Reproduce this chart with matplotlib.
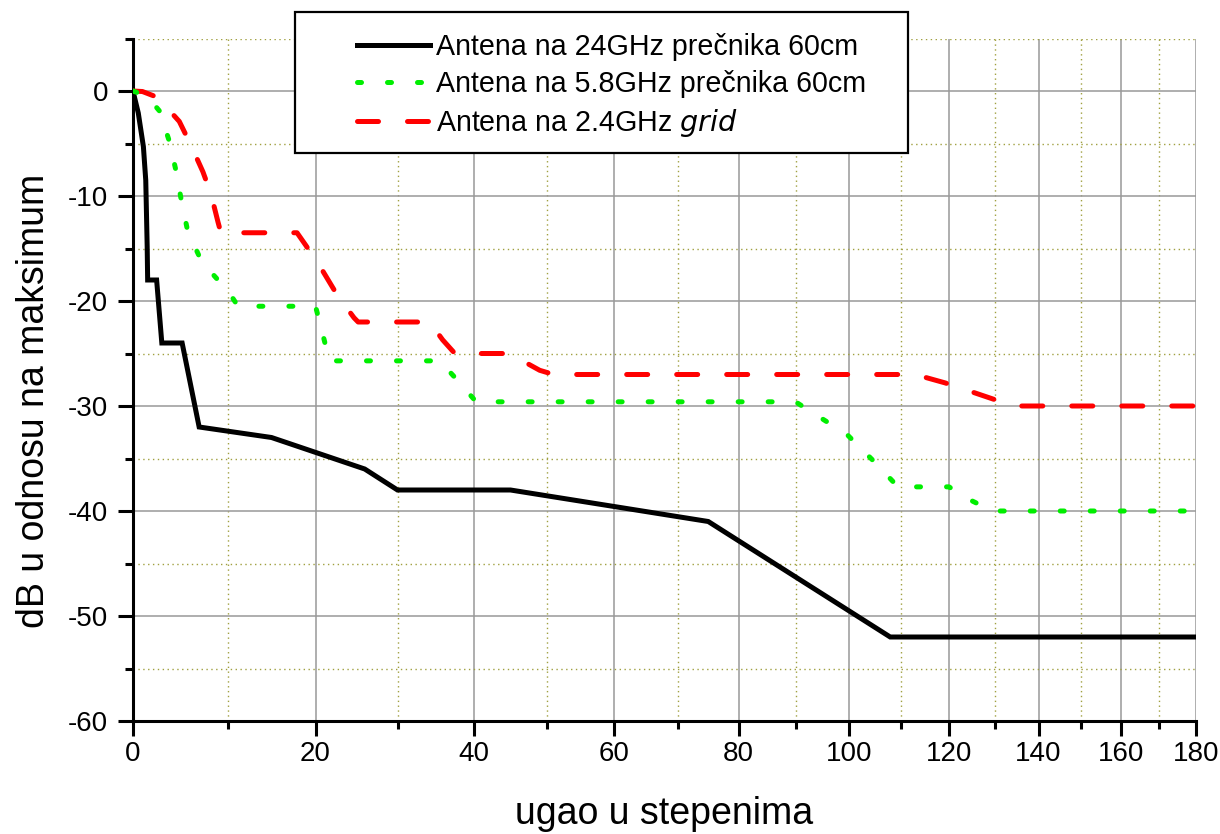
import numpy as np
import matplotlib
matplotlib.use("Agg")
import matplotlib.pyplot as plt
from matplotlib.patches import Rectangle
from matplotlib.lines import Line2D

plt.rcParams['font.family'] = ['Liberation Sans', 'DejaVu Sans']
plt.rcParams['axes.unicode_minus'] = False

# 24 GHz, 60 cm dish
ugao_24 = [0, 0.56, 1.1, 1.35, 1.5, 1.55, 2.5, 3.05, 5.2, 7, 15, 26, 30, 45, 75, 108, 180]
db_24 = [0, -2.1, -5.3, -8.5, -14.8, -18, -18, -24, -24, -32, -33, -36, -38, -38, -41, -52, -52]

# 5.8 GHz, 60 cm dish
ugao_58 = [0, 1.5, 2.8, 3.85, 4.55, 5.15, 5.8, 7.3, 10.1, 11.2, 20, 20.8, 21.7, 35.5, 37.4, 40.3,
           90, 94, 99.6, 105.3, 109.5, 120, 123.9, 129.5, 180]
db_58 = [0, -0.5, -1.9, -4.8, -7.6, -10.6, -13.4, -16.3, -19.1, -20.5, -20.5, -22.9, -25.7, -25.7,
         -27.2, -29.6, -29.6, -30.9, -32.7, -35.5, -37.7, -37.7, -38.8, -40, -40]

# 2.4 GHz grid
ugao_24g = [0, 1, 2.3, 3.5, 4.9, 6.1, 7.4, 8.25, 9.0, 9.3, 17.9, 18.9, 20.7, 22.7, 24.7, 25.2,
            34.2, 35.9, 37.5, 44.5, 45.6, 49, 51, 113, 119.2, 124.6, 130, 134.5, 180]
db_24g = [0, -0.05, -0.5, -1.5, -2.9, -5.1, -7.7, -9.8, -12.5, -13.5, -13.5, -14.7, -16.9, -19.5,
          -21.6, -22, -22, -23.7, -25, -25, -25.3, -26.6, -27, -27, -27.8, -28.6, -29.4, -30, -30]

labels = ["Antena na 24GHz prečnika 60cm",
          "Antena na 5.8GHz prečnika 60cm",
          "Antena na 2.4GHz $\\it{grid}$"]

# non-uniform x axis: where each 10-degree step lands on the axis (relative units)
x_knots = np.arange(0, 181, 10)
x_pos = np.array([133, 227.5, 315.5, 397.5, 474, 547, 614, 678, 738.5, 795.5, 849,
                  900.5, 949, 995, 1038.5, 1080.5, 1121, 1159, 1196]) - 133.0
k_deg = np.concatenate([[-1e4], x_knots, [1e4]])
k_pos = np.concatenate([[x_pos[0] - (1e4) * 9.45], x_pos, [x_pos[-1] + (1e4 - 180) * 3.7]])


def fwd(v):
    return np.interp(v, k_deg, k_pos)


def inv(p):
    return np.interp(p, k_pos, k_deg)


W, H = 1220, 834
fig = plt.figure(figsize=(W / 100, H / 100), dpi=100)
ax = fig.add_axes([133 / W, 113 / H, 1063 / W, 682.5 / H])
ax.set_xscale('function', functions=(fwd, inv))

lw = 3.6
ax.plot(ugao_24, db_24, color='black', lw=lw, solid_joinstyle='miter', zorder=3)
ax.plot(ugao_24g, db_24g, color='#ff0000', lw=lw, linestyle=(0, (4.2, 5.8)),
        dash_capstyle='round', zorder=3.1)
ax.plot(ugao_58, db_58, color='#00ee00', lw=lw, linestyle=(0, (0.8, 5.2)),
        dash_capstyle='round', zorder=3.2)

ax.set_xlim(0, 180)
ax.set_ylim(-60, 5)
ax.set_xticks(np.arange(0, 181, 20))
ax.set_xticks(np.arange(10, 180, 20), minor=True)
ax.set_yticks(np.arange(-60, 1, 10))
ax.set_yticks(np.arange(-55, 6, 10), minor=True)

ax.grid(which='major', color='#999999', lw=1.1)
ax.grid(which='minor', color='#a0a040', lw=1.0, linestyle=(0, (1, 2.5)))
ax.set_axisbelow(True)
# no grid line along the top edge
for t in ax.yaxis.get_minor_ticks():
    if t.get_loc() > 0:
        t.gridline.set_visible(False)

for s in ['top', 'right']:
    ax.spines[s].set_visible(False)
for s in ['left', 'bottom']:
    ax.spines[s].set_linewidth(2.2)

ax.tick_params(which='major', length=10.8, width=2.2, labelsize=20)
ax.tick_params(axis='x', which='major', pad=3.6)
ax.tick_params(axis='y', which='major', pad=7)
ax.tick_params(which='minor', length=5.8, width=2.2)

ax.set_xlabel("ugao u stepenima", fontsize=27)
ax.set_ylabel("dB u odnosu na maksimum", fontsize=27)
ax.xaxis.set_label_coords(0.5, (721 - 796) / 682.5)
ax.yaxis.set_label_coords((52 - 133) / 1063, (721 - 401) / 682.5)

# legend box
frame = Rectangle((295 / W, 1 - 153 / H), 613 / W, 141 / H, transform=fig.transFigure,
                  facecolor='white', edgecolor='black', lw=1.6, clip_on=False, zorder=4)
ax.add_patch(frame)
handles = [Line2D([], [], color='black', lw=lw),
           Line2D([], [], color='#00ee00', lw=lw, linestyle=(0, (0.8, 5.2)), dash_capstyle='round'),
           Line2D([], [], color='#ff0000', lw=lw, linestyle=(0, (4.2, 5.8)), dash_capstyle='round')]
leg = ax.legend(handles, labels, loc='upper left', bbox_to_anchor=(357 / W, 1 - 33 / H),
                bbox_transform=fig.transFigure, frameon=False, fontsize=20.6,
                handlelength=2.55, handletextpad=0.2, labelspacing=0.32, borderpad=0,
                borderaxespad=0)
leg.set_zorder(5)

fig.savefig("out.png", dpi=100)
